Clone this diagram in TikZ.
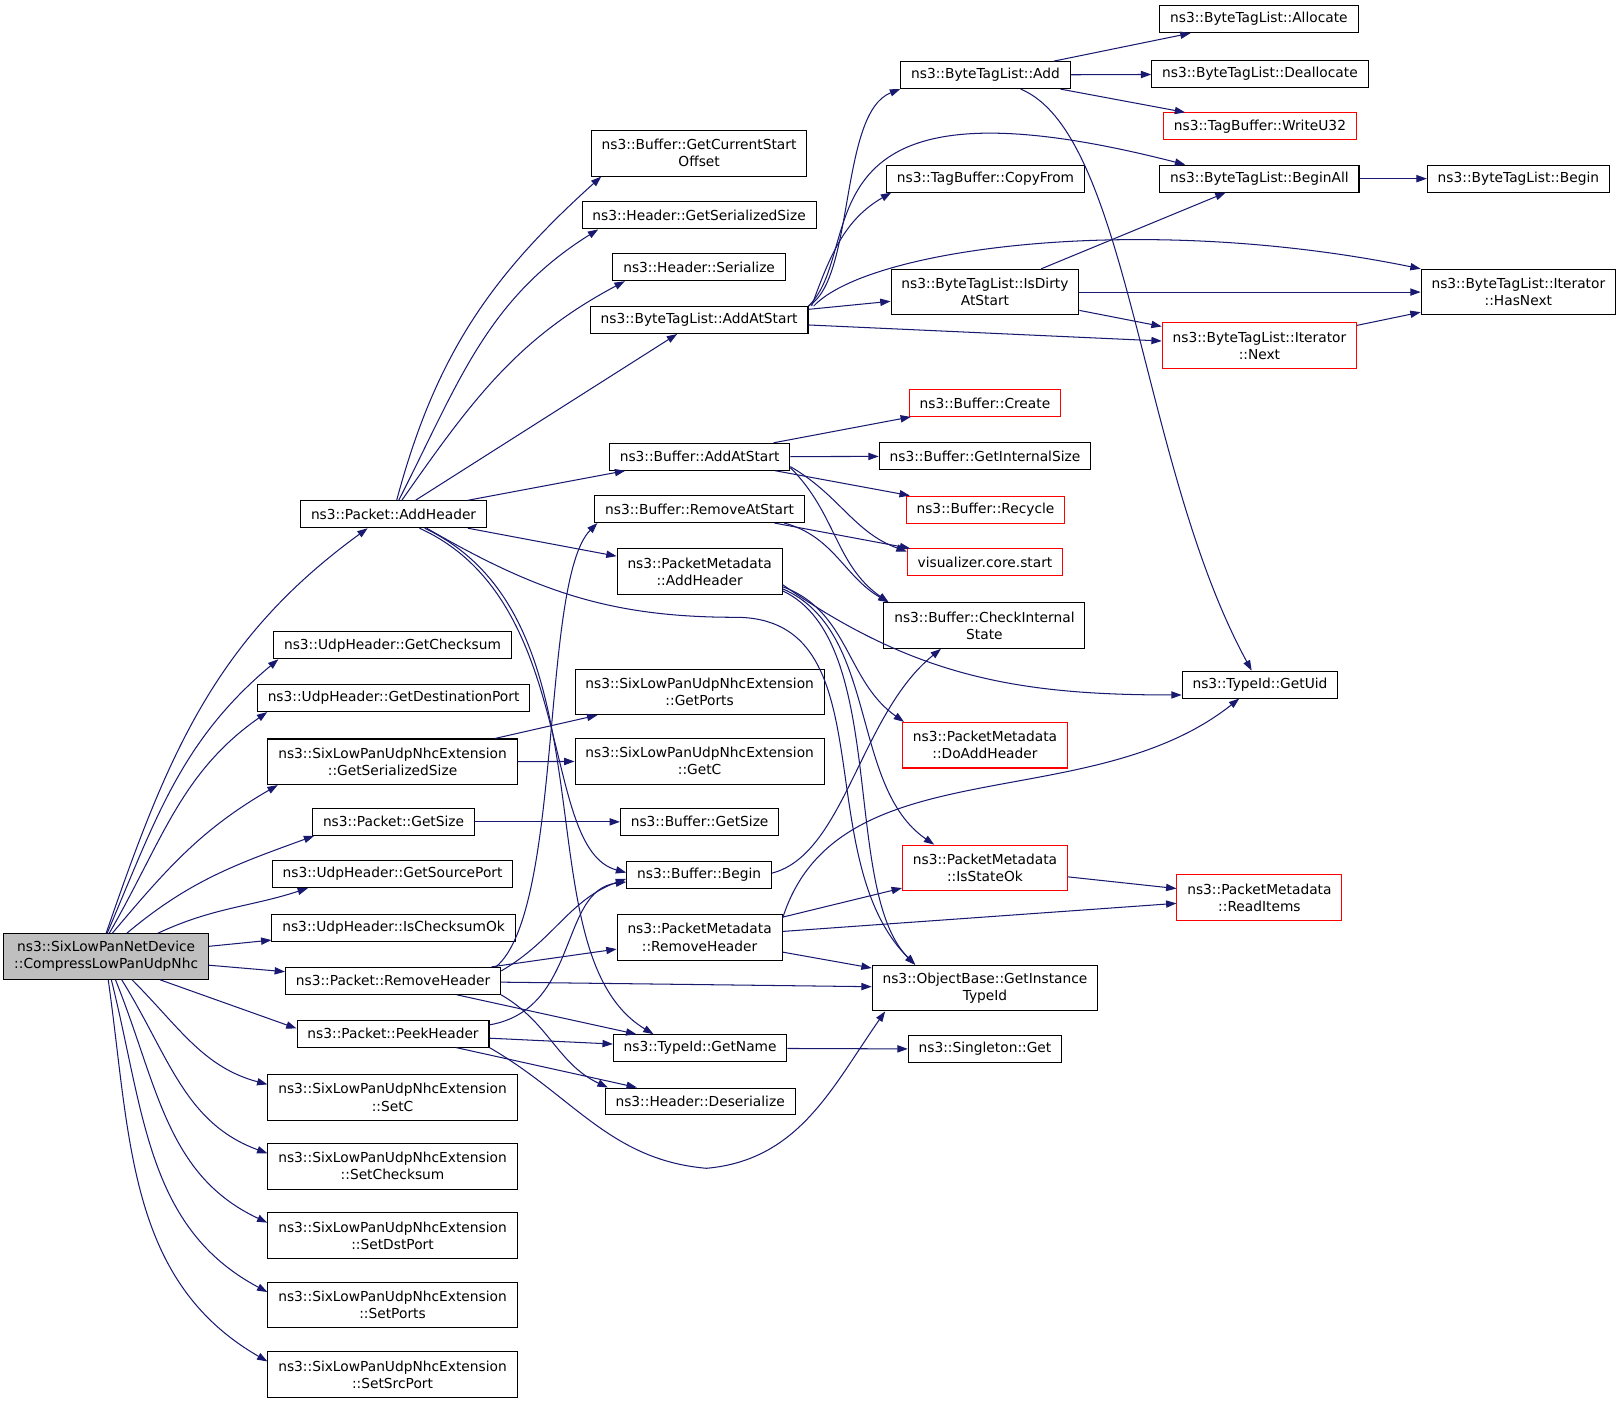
\documentclass[tikz,border=0pt]{standalone}
\usepackage{fontspec}
\setmainfont{DejaVu Sans}
\usepackage{tikz}
\usetikzlibrary{arrows.meta}

\definecolor{edgeblue}{HTML}{191970}
\definecolor{rootgray}{HTML}{BFBFBF}
\newcommand{\fnfont}{\fontsize{13.3}{16.5}\selectfont}

\tikzset{
    fn/.style={draw=black, line width=1pt, rectangle, inner xsep=10pt, inner ysep=0pt,
        minimum height=26pt, align=center, font=\fnfont},
    fnred/.style={fn, draw=red},
    fntwo/.style={minimum height=44pt},
    call/.style={draw=edgeblue, line width=1pt, -{Triangle[length=10pt,width=7pt]}}
}

\begin{document}
\begin{tikzpicture}[x=1pt, y=1pt]
    \useasboundingbox (0,0) rectangle (1568,-1354.6);

    % caller
    \node[fn, fntwo, fill=rootgray] (root) at (102.5,-923.5) {ns3::SixLowPanNetDevice\\::CompressLowPanUdpNhc};

    % called directly
    \node[fn] (addh) at (380,-496.5) {ns3::Packet::AddHeader};
    \node[fn] (udpchk) at (379,-623) {ns3::UdpHeader::GetChecksum};
    \node[fn] (udpdst) at (380,-674) {ns3::UdpHeader::GetDestinationPort};
    \node[fn, fntwo] (extser) at (379,-735.5) {ns3::SixLowPanUdpNhcExtension\\::GetSerializedSize};
    \node[fn] (pktsize) at (380,-793.5) {ns3::Packet::GetSize};
    \node[fn] (udpsrc) at (379,-844) {ns3::UdpHeader::GetSourcePort};
    \node[fn] (udpok) at (380,-896) {ns3::UdpHeader::IsChecksumOk};
    \node[fn] (remh) at (379.5,-947) {ns3::Packet::RemoveHeader};
    \node[fn] (peekh) at (379.5,-998) {ns3::Packet::PeekHeader};
    \node[fn, fntwo] (setc) at (379,-1059.5) {ns3::SixLowPanUdpNhcExtension\\::SetC};
    \node[fn, fntwo] (setchk) at (379,-1126) {ns3::SixLowPanUdpNhcExtension\\::SetChecksum};
    \node[fn, fntwo] (setdst) at (379,-1193) {ns3::SixLowPanUdpNhcExtension\\::SetDstPort};
    \node[fn, fntwo] (setports) at (379,-1260) {ns3::SixLowPanUdpNhcExtension\\::SetPorts};
    \node[fn, fntwo] (setsrc) at (379,-1327) {ns3::SixLowPanUdpNhcExtension\\::SetSrcPort};

    % third column
    \node[fn, fntwo] (curoff) at (675,-148) {ns3::Buffer::GetCurrentStart\\Offset};
    \node[fn] (hdrser) at (675,-208) {ns3::Header::GetSerializedSize};
    \node[fn] (hdrs) at (675,-258) {ns3::Header::Serialize};
    \node[fn] (btladd) at (675,-309) {ns3::ByteTagList::AddAtStart};
    \node[fn] (bufadd) at (675.5,-441) {ns3::Buffer::AddAtStart};
    \node[fn] (bufrem) at (675.5,-491.5) {ns3::Buffer::RemoveAtStart};
    \node[fn, fntwo] (pmadd) at (675.5,-552) {ns3::PacketMetadata\\::AddHeader};
    \node[fn, fntwo] (extports) at (675.5,-668) {ns3::SixLowPanUdpNhcExtension\\::GetPorts};
    \node[fn, fntwo] (extc) at (675.5,-735) {ns3::SixLowPanUdpNhcExtension\\::GetC};
    \node[fn] (bufsize) at (675.5,-793.5) {ns3::Buffer::GetSize};
    \node[fn] (bufbegin) at (675,-844.5) {ns3::Buffer::Begin};
    \node[fn, fntwo] (pmrem) at (675.5,-905) {ns3::PacketMetadata\\::RemoveHeader};
    \node[fn] (getname) at (676,-1012) {ns3::TypeId::GetName};
    \node[fn] (deser) at (676,-1063.5) {ns3::Header::Deserialize};

    % fourth column
    \node[fn] (btl) at (951.5,-72.5) {ns3::ByteTagList::Add};
    \node[fn] (copyfrom) at (951.5,-172.5) {ns3::TagBuffer::CopyFrom};
    \node[fn, fntwo] (dirty) at (951,-282) {ns3::ByteTagList::IsDirty\\AtStart};
    \node[fnred] (bufcreate) at (951,-389) {ns3::Buffer::Create};
    \node[fn] (intsize) at (951,-440.5) {ns3::Buffer::GetInternalSize};
    \node[fnred] (recycle) at (951.5,-492) {ns3::Buffer::Recycle};
    \node[fnred] (vis) at (951,-543) {visualizer.core.start};
    \node[fn, fntwo] (check) at (950.5,-604) {ns3::Buffer::CheckInternal\\State};
    \node[fnred, fntwo] (doadd) at (951,-719.5) {ns3::PacketMetadata\\::DoAddHeader};
    \node[fnred, fntwo] (stateok) at (951,-838) {ns3::PacketMetadata\\::IsStateOk};
    \node[fn, fntwo] (instid) at (951,-954) {ns3::ObjectBase::GetInstance\\TypeId};
    \node[fn] (single) at (951,-1013) {ns3::Singleton::Get};

    % fifth and sixth column
    \node[fn] (alloc) at (1215.5,-18.5) {ns3::ByteTagList::Allocate};
    \node[fn] (dealloc) at (1216.5,-71.5) {ns3::ByteTagList::Deallocate};
    \node[fnred] (writeu) at (1216.5,-122) {ns3::TagBuffer::WriteU32};
    \node[fn] (beginall) at (1216,-172.5) {ns3::ByteTagList::BeginAll};
    \node[fnred, fntwo] (itnext) at (1216,-333.5) {ns3::ByteTagList::Iterator\\::Next};
    \node[fn] (getuid) at (1216.5,-661) {ns3::TypeId::GetUid};
    \node[fnred, fntwo] (readitems) at (1216,-866.5) {ns3::PacketMetadata\\::ReadItems};
    \node[fn] (btlbegin) at (1466,-172.5) {ns3::ByteTagList::Begin};
    \node[fn, fntwo] (hasnext) at (1466,-282) {ns3::ByteTagList::Iterator\\::HasNext};

    % from the caller
    \draw[call] (root.north) to[out=71,in=216] ([xshift=-25]addh.south);
    \draw[call] ([xshift=1]root.north) to[out=67,in=220] ([xshift=5]udpchk.south west);
    \draw[call] ([xshift=3]root.north) to[out=60,in=215] ([xshift=10]udpdst.south west);
    \draw[call] ([xshift=6]root.north) to[out=50,in=210] ([xshift=10]extser.south west);
    \draw[call] ([xshift=20]root.north) to[out=40,in=200] ([xshift=2]pktsize.south west);
    \draw[call] ([xshift=50]root.north) to[out=25,in=198] ([xshift=35]udpsrc.south west);
    \draw[call] (root) -- (udpok);
    \draw[call] (root) -- (remh);
    \draw[call] ([xshift=52]root.south) -- ([yshift=5]peekh.west);
    \draw[call] ([xshift=25]root.south) to[out=-45,in=165] ([yshift=-10]setc.north west);
    \draw[call] ([xshift=15]root.south) to[out=-58,in=160] ([yshift=-10]setchk.north west);
    \draw[call] ([xshift=9]root.south) to[out=-68,in=155] ([yshift=-10]setdst.north west);
    \draw[call] ([xshift=5]root.south) to[out=-76,in=152] ([yshift=-10]setports.north west);
    \draw[call] ([xshift=2]root.south) to[out=-82,in=150] ([yshift=-10]setsrc.north west);

    % Packet::AddHeader
    \draw[call] ([xshift=3]addh.north) to[out=75,in=222] ([xshift=10]curoff.south west);
    \draw[call] ([xshift=5]addh.north) to[out=63,in=212] ([xshift=16]hdrser.south west);
    \draw[call] ([xshift=8]addh.north) to[out=55,in=208] ([xshift=12]hdrs.south west);
    \draw[call] (addh) -- (btladd);
    \draw[call] (addh) -- (bufadd);
    \draw[call] (addh) -- (pmadd);
    \draw[call] ([xshift=25]addh.south) .. controls +(155,-70) and +(-85,23) .. ([yshift=2]bufbegin.west);
    \draw[call] ([xshift=30]addh.south) .. controls +(190,-90) and +(-131,79) .. ([xshift=-45]getname.north);
    \draw[call] ([xshift=32]addh.south) to[out=-30,in=180] (710,-596) to[out=0,in=135] ([xshift=42]instid.north west);

    % PacketMetadata::AddHeader
    \draw[call] ([yshift=8]pmadd.south east) to[out=-20,in=145] ([xshift=2]doadd.north west);
    \draw[call] ([yshift=6]pmadd.south east) .. controls +(93,-40) and +(-82,56) .. ([xshift=-49]stateok.north);
    \draw[call] ([yshift=4]pmadd.south east) .. controls +(103,-48) and +(-72,72) .. ([xshift=42]instid.north west);
    \draw[call] ([yshift=10]pmadd.south east) to[out=-35,in=180] ([yshift=-10]getuid.west);

    % Buffer::AddAtStart, Buffer::RemoveAtStart
    \draw[call] (bufadd) -- (bufcreate);
    \draw[call] (bufadd) -- (intsize);
    \draw[call] (bufadd) -- (recycle);
    \draw[call] ([yshift=4]bufadd.south east) to[out=-30,in=160] ([yshift=-3]vis.north west);
    \draw[call] ([yshift=3]bufadd.south east) to[out=-45,in=145] ([xshift=5]check.north west);
    \draw[call] (bufrem) -- (vis);
    \draw[call] ([xshift=-20]bufrem.south east) to[out=-15,in=150] ([xshift=5]check.north west);

    % ByteTagList::AddAtStart
    \draw[call] (btladd.north east) .. controls +(45,26) and +(-59,-23) .. (btl.south west);
    \draw[call] (btladd.north east) .. controls +(58,56) and +(-385,99) .. ([xshift=25]beginall.north west);
    \draw[call] ([xshift=3]btladd.north east) to[out=70,in=210] ([xshift=5]copyfrom.south west);
    \draw[call] ([xshift=5]btladd.north east) .. controls +(53,56) and +(-270,55) .. (hasnext.north west);
    \draw[call] (btladd) -- (dirty);
    \draw[call] (btladd) -- (itnext);

    % ByteTagList::Add
    \draw[call] (btl) -- (alloc);
    \draw[call] (btl) -- (dealloc);
    \draw[call] (btl) -- (writeu);
    \draw[call] ([xshift=34]btl.south) .. controls +(105,-44) and +(-108,198) .. ([xshift=-8]getuid.north);

    \draw[call] (dirty) -- (beginall);
    \draw[call] (dirty) -- (hasnext);
    \draw[call] (dirty) -- (itnext);
    \draw[call] (itnext) -- (hasnext);
    \draw[call] (beginall) -- (btlbegin);

    \draw[call] ([yshift=1.5]bufbegin.east) .. controls +(70,18) and +(-78,-63) .. ([xshift=-42]check.south);

    % PacketMetadata::RemoveHeader
    \draw[call] ([yshift=-4]pmrem.north east) .. controls +(53,167) and +(-146,-116) .. ([xshift=-20]getuid.south);
    \draw[call] (pmrem) -- (stateok);
    \draw[call] (pmrem) -- (readitems);
    \draw[call] (pmrem) -- (instid);
    \draw[call] (stateok) -- (readitems);

    \draw[call] (getname) -- (single);
    \draw[call] (pktsize) -- (bufsize);
    \draw[call] (extser) -- (extports);
    \draw[call] (extser) -- (extc);

    % Packet::RemoveHeader
    \draw[call] ([xshift=-5]remh.north east) .. controls +(65,54) and +(-55,-55) .. ([xshift=3]bufrem.south west);
    \draw[call] ([yshift=-4]remh.north east) to[out=30,in=200] ([yshift=-4]bufbegin.west);
    \draw[call] (remh) -- (pmrem);
    \draw[call] (remh) -- (instid);
    \draw[call] (remh) -- (getname);
    \draw[call] (remh.south east) to[out=-30,in=155] ([xshift=3]deser.north west);

    % Packet::PeekHeader
    \draw[call] ([yshift=-5]peekh.north east) .. controls +(87,15) and +(-65,-8) .. ([yshift=-7]bufbegin.west);
    \draw[call] (peekh) -- (getname);
    \draw[call] (peekh) -- (deser);
    \draw[call] (peekh.south east) to[out=-30,in=175] (682,-1128) to[out=5,in=235] ([xshift=13]instid.south west);
\end{tikzpicture}
\end{document}
